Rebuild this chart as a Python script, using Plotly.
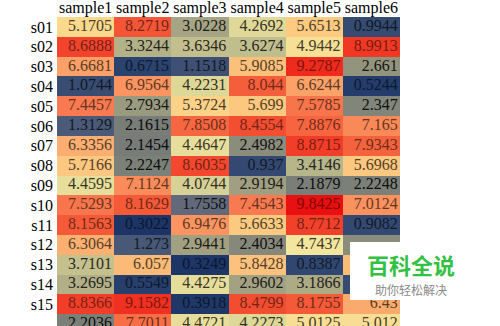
import plotly.graph_objects as go
from plotly.colors import sample_colorscale

samples = ["sample1", "sample2", "sample3", "sample4", "sample5", "sample6"]
rows = ["s01", "s02", "s03", "s04", "s05", "s06", "s07", "s08",
        "s09", "s10", "s11", "s12", "s13", "s14", "s15", "s16"]

sample1 = [5.1705, 8.6888, 6.6681, 1.0744, 7.4457, 1.3129, 6.3356, 5.7166,
           4.4595, 7.5293, 8.1563, 6.3064, 3.7101, 3.2695, 8.8366, 2.2036]
sample2 = [8.2719, 3.3244, 0.6715, 6.9564, 2.7934, 2.1615, 2.1454, 2.2247,
           7.1124, 8.1629, 0.3022, 1.273, 6.057, 0.5549, 9.1582, 7.7011]
sample3 = [3.0228, 3.6346, 1.1518, 4.2231, 5.3724, 7.8508, 4.4647, 8.6035,
           4.0744, 1.7558, 6.9476, 2.9441, 0.3249, 4.4275, 0.3918, 4.4721]
sample4 = [4.2692, 3.6274, 5.9085, 8.044, 5.699, 8.4554, 2.4982, 0.937,
           2.9194, 7.4543, 5.6633, 2.4034, 5.8428, 2.9602, 8.4799, 4.2273]
sample5 = [5.6513, 4.9442, 9.2787, 6.6244, 7.5785, 7.8876, 8.8715, 3.4146,
           2.1879, 9.8425, 8.7712, 4.7437, 0.8387, 3.1866, 8.1755, 5.0125]
sample6 = [0.9944, 8.9913, 2.661, 0.5244, 2.347, 7.165, 7.9343, 5.6968,
           2.2248, 7.0124, 0.9082, 2.5, 6.0, 1.0, 6.43, 5.012]

# cells hidden behind the watermark box in the reference (row, column)
hidden = [(11, 5), (12, 5), (13, 5)]

columns = [sample1, sample2, sample3, sample4, sample5, sample6]
z = [[columns[c][r] for c in range(6)] for r in range(len(rows))]

zmin, zmax = 0.3, 9.85
stops = [(0.3, "#1c3566"), (0.7, "#2b4470"), (1.1, "#3a4d72"), (1.3, "#4a5a78"),
         (1.75, "#62697a"), (2.2, "#7a7f78"), (2.8, "#9a9a80"), (3.3, "#b2b088"),
         (4.2, "#dcd698"), (4.75, "#f3e69e"), (5.2, "#fad88c"), (5.7, "#fcc880"),
         (6.3, "#fbb072"), (6.95, "#fb9460"), (7.45, "#f97a50"), (8.0, "#f5603c"),
         (8.8, "#f2402a"), (9.3, "#ef2a1c"), (9.85, "#e81010")]
cscale = [[(v - zmin) / (zmax - zmin), c] for v, c in stops]

font_family = "Liberation Serif, Times New Roman, serif"

fig = go.Figure()
fig.add_trace(go.Heatmap(
    z=z, x=list(range(6)), y=list(range(len(rows))),
    colorscale=cscale, zmin=zmin, zmax=zmax, showscale=False,
    hoverinfo="skip"))

tx, ty, tt, tc = [], [], [], []
for r in range(len(rows)):
    for c in range(6):
        if (r, c) in hidden:
            continue
        v = z[r][c]
        col = sample_colorscale(cscale, [(v - zmin) / (zmax - zmin)])[0]
        rgb = [float(x) for x in col[col.find("(") + 1:col.find(")")].split(",")]
        mx, mn = max(rgb), min(rgb)
        sat = (mx - mn) / mx if mx > 0 else 0
        k = 0.08 + 0.5 * sat
        tx.append(c + 0.46)
        ty.append(r)
        tt.append(f"{v:g}")
        tc.append("rgb(%d,%d,%d)" % tuple(int(x * k) for x in rgb))

fig.add_trace(go.Scatter(
    x=tx, y=ty, text=tt, mode="text", textposition="middle left",
    textfont=dict(family=font_family, size=16, color=tc),
    hoverinfo="skip", showlegend=False))

fig.update_layout(
    width=500, height=326,
    margin=dict(l=57, r=100, t=17, b=0),
    paper_bgcolor="white", plot_bgcolor="white",
    font=dict(family=font_family, size=16, color="black"),
    showlegend=False,
    xaxis=dict(side="top", tickmode="array", tickvals=list(range(6)),
               ticktext=samples, range=[-0.5, 5.5], showgrid=False,
               zeroline=False, ticks="", ticklabelstandoff=0,
               tickfont=dict(family=font_family, size=16, color="black")),
    yaxis=dict(tickmode="array", tickvals=list(range(len(rows))),
               ticktext=rows, range=[15.1, -0.5], showgrid=False,
               zeroline=False, ticks="", ticklabelstandoff=3,
               tickfont=dict(family=font_family, size=16, color="black")),
)

# watermark box
fig.add_shape(type="rect", xref="paper", yref="paper",
              x0=(350 - 57) / 343, x1=(502 - 57) / 343,
              y0=1 - (300 - 17) / 309, y1=1 - (242 - 17) / 309,
              fillcolor="white", line=dict(width=0), layer="above")
fig.add_annotation(text="<b>百科全说</b>", xref="paper", yref="paper",
                   x=(411 - 57) / 343, y=1 - (264 - 17) / 309, showarrow=False,
                   xanchor="center", yanchor="middle", borderpad=0,
                   font=dict(family="Noto Sans CJK SC", size=22, color="#33c143"))
fig.add_annotation(text="助你轻松解决", xref="paper", yref="paper",
                   x=(411 - 57) / 343, y=1 - (289 - 17) / 309, showarrow=False,
                   xanchor="center", yanchor="middle", borderpad=0,
                   font=dict(family="Noto Sans CJK SC", size=12, color="#8a8a8a"))

fig.write_html("out.html")
